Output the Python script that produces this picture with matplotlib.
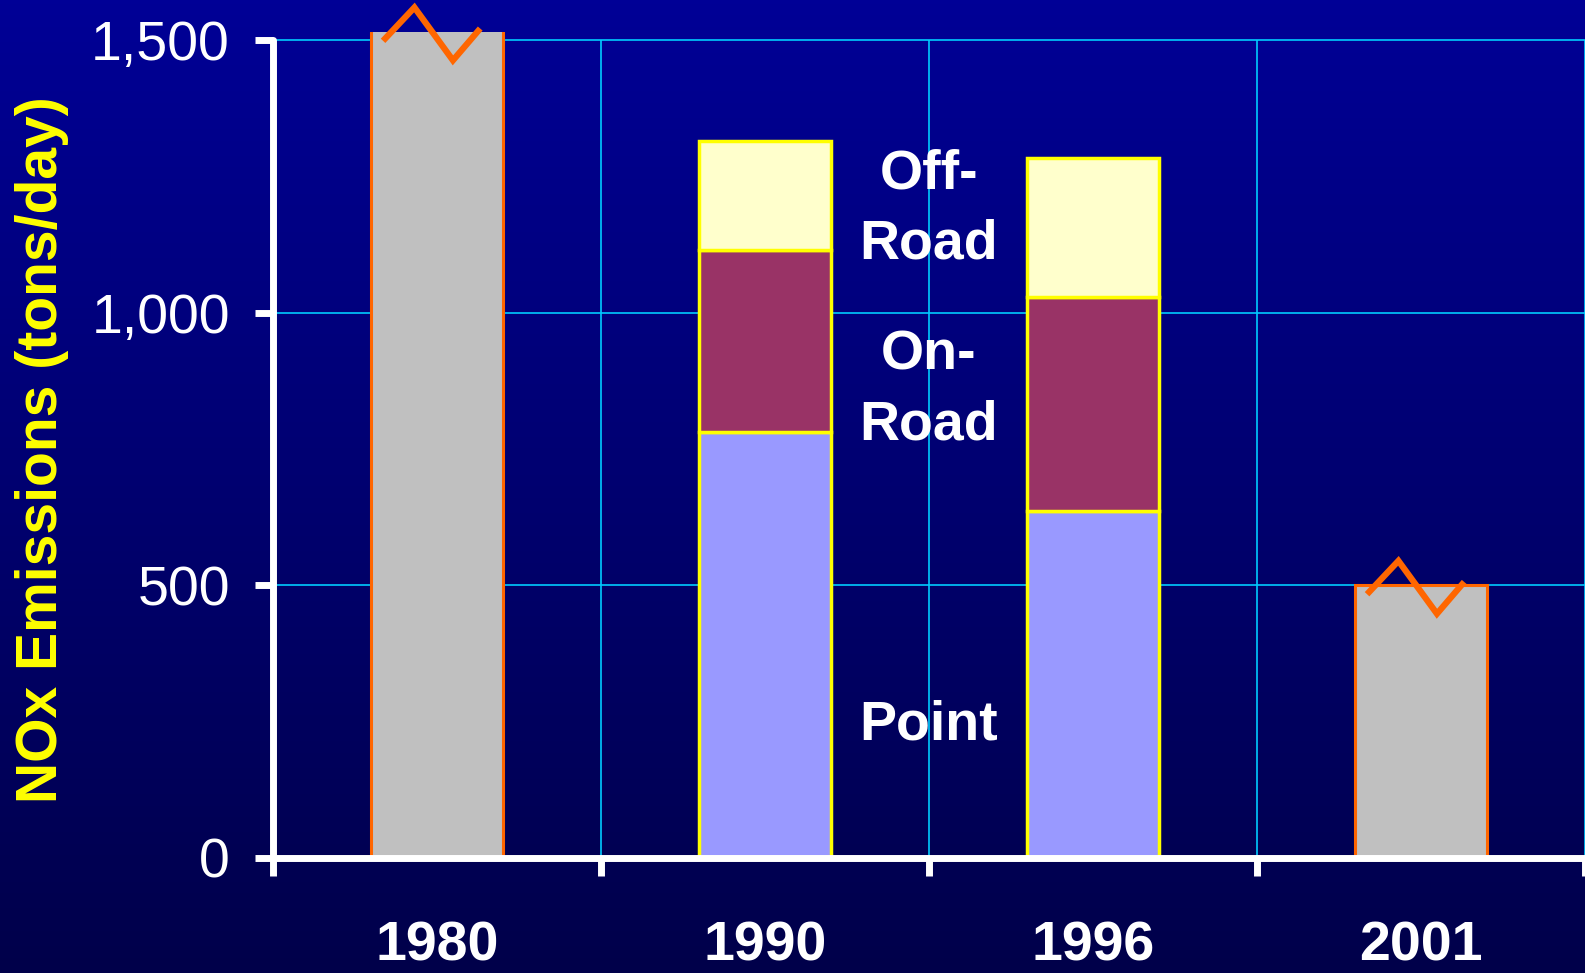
import numpy as np
import matplotlib
matplotlib.use("Agg")
import matplotlib.pyplot as plt

plt.rcParams['font.family'] = ['Liberation Sans', 'DejaVu Sans']

# data (tons/day)
years = ['1980', '1990', '1996', '2001']
total_only = [1540, 0, 0, 500]      # single-value bars (1980 is broken at the top)
point = [0, 782, 636, 0]
on_road = [0, 334, 393, 0]
off_road = [0, 199, 254, 0]
yticks = [0, 500, 1000, 1500]
seg_labels = ['Point', 'On-\nRoad', 'Off-\nRoad']
seg_label_y = [243, 858, 1190]

fig = plt.figure(figsize=(15.85, 9.73), dpi=100)

# dark blue gradient background
bg = fig.add_axes([0, 0, 1, 1], zorder=-1)
grad = np.linspace(0, 1, 256).reshape(-1, 1)
top = np.array([0, 0, 150]) / 255
bot = np.array([0, 0, 74]) / 255
img = top * (1 - grad[..., None]) + bot * grad[..., None]
bg.imshow(img, aspect='auto', extent=[0, 1, 0, 1])
bg.axis('off')

ax = fig.add_axes([273 / 1585, 115 / 973, 1312 / 1585, 826 / 973])
ax.patch.set_alpha(0)

x = np.arange(len(years))
w = 0.405
ymax = 1515

# gray bars for the single totals
single = [i for i, v in enumerate(total_only) if v > 0]
ax.bar(x[single], [total_only[i] for i in single], w, color='#C0C0C0',
       edgecolor='#FF6600', linewidth=2.2, zorder=3)

# stacked source categories
st = [i for i, v in enumerate(point) if v > 0]
p = np.array([point[i] for i in st])
on = np.array([on_road[i] for i in st])
off = np.array([off_road[i] for i in st])
ax.bar(x[st], p, w, color='#9999FF', edgecolor='#FFFF00', linewidth=2.5, zorder=3)
ax.bar(x[st], on, w, bottom=p, color='#993366', edgecolor='#FFFF00', linewidth=2.5, zorder=3)
ax.bar(x[st], off, w, bottom=p + on, color='#FFFFCC', edgecolor='#FFFF00', linewidth=2.5, zorder=3)

ax.set_xlim(-0.5, 3.5)
ax.set_ylim(0, ymax)

# break markers on top of the gray bars (offsets in bar widths / data units)
zx = np.array([-0.39, -0.17, 0.12, 0.31]) * w
zy = np.array([-12, 45, -52, 2])
for i in single:
    t = min(total_only[i], ymax)
    ax.plot(x[i] + zx, t + zy, color='#FF6600', lw=4.5,
            solid_joinstyle='miter', zorder=5, clip_on=False)

# segment labels between 1990 and 1996
for s, yy in zip(seg_labels, seg_label_y):
    ax.text(1.5, yy, s, ha='center', va='center', color='white',
            fontsize=40, fontweight='bold', linespacing=1.45, zorder=6)

# grid: horizontal at ticks, vertical at category boundaries up to 1,500
ax.set_yticks(yticks)
ax.set_yticklabels([f'{v:,}' for v in yticks])
bounds = np.arange(-0.5, 3.6, 1)
ax.hlines(yticks[1:], -0.5, 3.5, color='#00CCFF', lw=1.2, zorder=1)
ax.vlines(bounds[1:], 0, yticks[-1], color='#00CCFF', lw=1.2, zorder=1)
ax.set_xticks(bounds)
ax.set_xticklabels([])
ax.set_xticks(x, minor=True)
ax.set_xticklabels(years, minor=True, fontsize=40, fontweight='bold', color='white')

for side in ['top', 'right']:
    ax.spines[side].set_visible(False)
for side in ['left', 'bottom']:
    ax.spines[side].set_color('white')
    ax.spines[side].set_linewidth(5)
    ax.spines[side].set_capstyle('round')
    ax.spines[side].set_zorder(7)
ax.spines['left'].set_bounds(0, 1500)

ax.tick_params(axis='y', which='major', length=13, width=5, color='white',
               labelcolor='white', labelsize=40, pad=18)
ax.tick_params(axis='x', which='major', length=13, width=5, color='white')
ax.tick_params(axis='x', which='minor', length=0, pad=45)

fig.text(42 / 1585, 1 - 450 / 973, 'NOx Emissions (tons/day)', rotation=90,
         ha='center', va='center', color='#FFFF00', fontsize=41, fontweight='bold')

fig.savefig('out.png', dpi=100)
